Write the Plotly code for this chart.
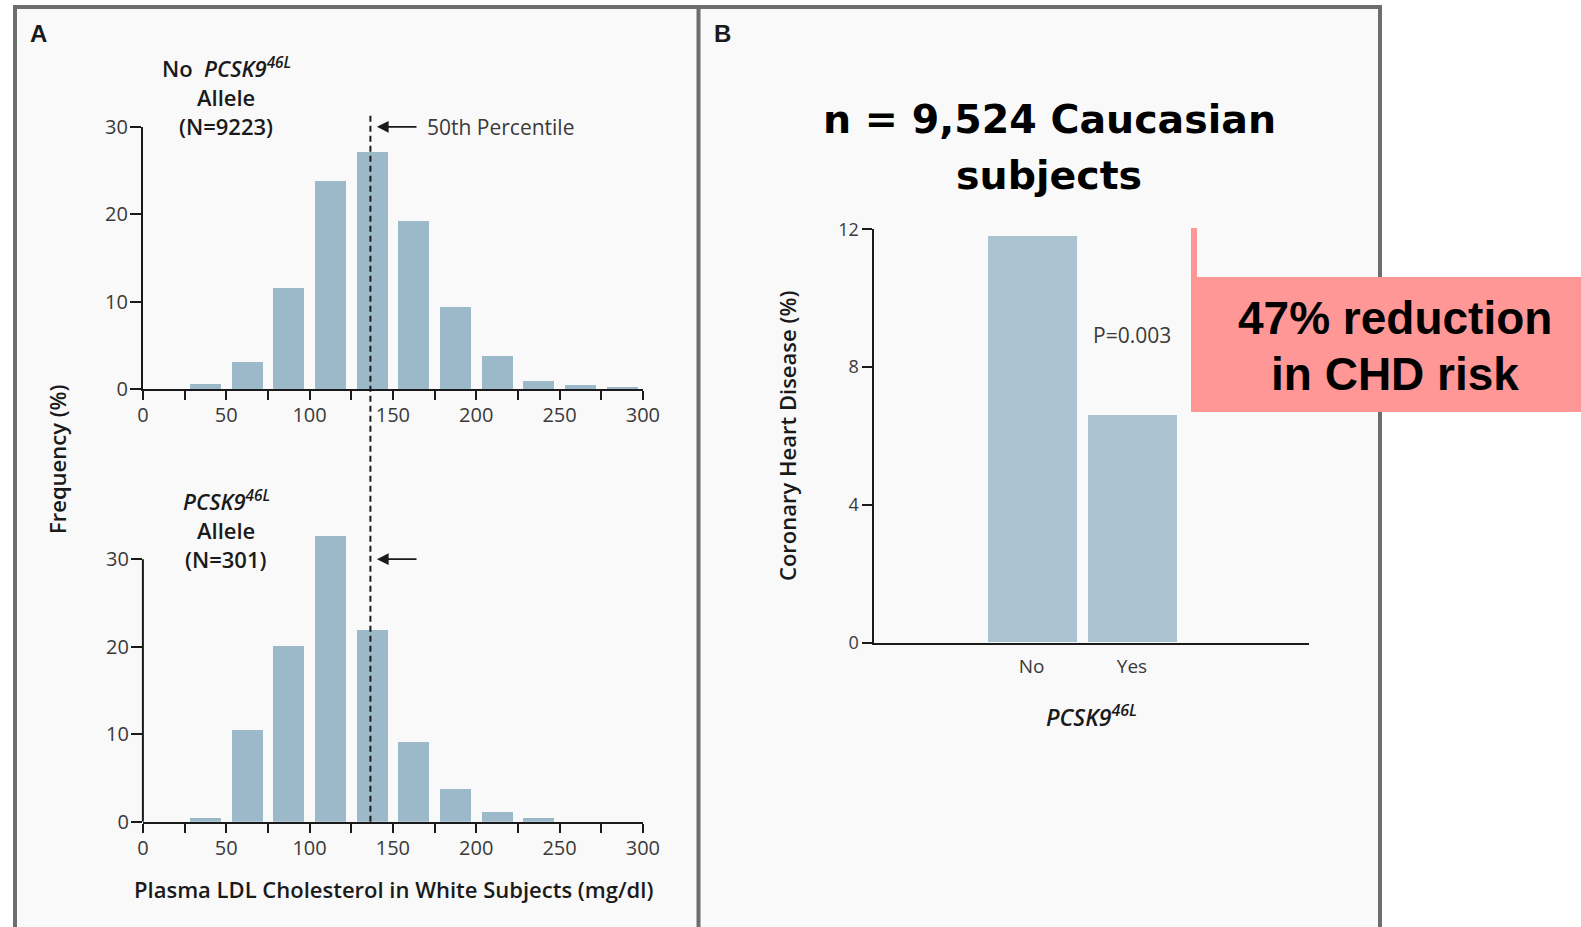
import plotly.graph_objects as go

# ---- data ----
ldl_bin_centers = [37.5, 62.5, 87.5, 112.5, 137.5, 162.5, 187.5, 212.5, 237.5, 262.5, 287.5]
freq_no_allele = [0.6, 3.2, 11.6, 23.8, 27.2, 19.3, 9.4, 3.8, 1.0, 0.5, 0.25]
freq_allele = [0.4, 10.5, 20.1, 32.6, 21.9, 9.1, 3.7, 1.1, 0.4, 0.0, 0.0]
ldl_median = 136.5

chd_groups = ["No", "Yes"]
chd_rate = [11.8, 6.6]

x_ticks = [0, 25, 50, 75, 100, 125, 150, 175, 200, 225, 250, 275, 300]
x_tick_text = ["0", " ", "50", " ", "100", " ", "150", " ", "200", " ", "250", " ", "300"]
freq_ticks = [0, 10, 20, 30]
chd_ticks = [0, 4, 8, 12]

# ---- page geometry (pixels) ----
W, H = 1581, 927


def px(x):
    return x / W


def py(y):
    return 1 - y / H


HIST_COLOR = "#9cb9c9"
CHD_COLOR = "#abc3d0"
INK = "#1a1a1a"
TICK_INK = "#3a3a3a"
NEJM = "Open Sans, Lato, sans-serif"
ARIAL = "Liberation Sans, Arial, sans-serif"
WIDE = "DejaVu Sans, Verdana, sans-serif"

fig = go.Figure()

fig.add_trace(go.Bar(x=ldl_bin_centers, y=freq_no_allele, width=18.5,
                     marker=dict(color=HIST_COLOR, line_width=0),
                     xaxis="x", yaxis="y", showlegend=False))
fig.add_trace(go.Bar(x=ldl_bin_centers, y=freq_allele, width=18.5,
                     marker=dict(color=HIST_COLOR, line_width=0),
                     xaxis="x2", yaxis="y2", showlegend=False))
fig.add_trace(go.Bar(x=chd_groups, y=chd_rate, width=0.89,
                     marker=dict(color=CHD_COLOR, line_width=0),
                     xaxis="x3", yaxis="y3", showlegend=False))

x_dom = [px(142.9), px(642.9)]
unit_y = 8.75  # pixels per percent on the histograms
top_zero, bot_zero = 389.3, 821.7
bot_max = 34

hist_x_common = dict(range=[0, 300], tickvals=x_ticks, ticktext=x_tick_text,
                     ticks="outside", ticklen=9, tickwidth=2, tickcolor=INK,
                     showline=True, linecolor=INK, linewidth=2, automargin=False,
                     showgrid=False, zeroline=False, fixedrange=True,
                     ticklabelstandoff=-2,
                     tickfont=dict(family=NEJM, size=20, color=TICK_INK))
hist_y_common = dict(tickvals=freq_ticks, ticks="outside", ticklen=11, tickwidth=2,
                     tickcolor=INK, showgrid=False, zeroline=False, automargin=False,
                     tickfont=dict(family=NEJM, size=20, color=TICK_INK),
                     ticklabelstandoff=-2)

fig.update_layout(
    width=W, height=H,
    margin=dict(l=0, r=0, t=0, b=0, autoexpand=False),
    paper_bgcolor="white",
    plot_bgcolor="rgba(0,0,0,0)",
    bargap=0,
    xaxis=dict(domain=x_dom, anchor="y", **hist_x_common),
    yaxis=dict(domain=[py(top_zero), py(top_zero - 30 * unit_y)], range=[0, 30],
               anchor="x", showline=True, linecolor=INK, linewidth=2, **hist_y_common),
    xaxis2=dict(domain=x_dom, anchor="y2", **hist_x_common),
    yaxis2=dict(domain=[py(bot_zero), py(bot_zero - bot_max * unit_y)], range=[0, bot_max],
                anchor="x2", showline=False, **hist_y_common),
    xaxis3=dict(domain=[px(873.5), px(1309.3)], anchor="y3", type="category",
                range=[-1.577, 2.768], showline=True, linecolor=INK, linewidth=2,
                ticks="", showgrid=False, zeroline=False, automargin=False,
                ticklabelstandoff=5,
                tickfont=dict(family=NEJM, size=19, color=TICK_INK)),
    yaxis3=dict(domain=[py(642.7), py(229.3)], range=[0, 12], anchor="x3",
                tickvals=chd_ticks, ticks="outside", ticklen=10, tickwidth=2,
                tickcolor=INK, showline=True, linecolor=INK, linewidth=2,
                showgrid=False, zeroline=False, ticklabelstandoff=-1, automargin=False,
                tickfont=dict(family=NEJM, size=18, color=TICK_INK)),
)

shapes = []
# panel frames
shapes.append(dict(type="rect", xref="paper", yref="paper",
                   x0=px(15), x1=px(1380), y0=py(929), y1=py(7),
                   line=dict(color="#6d6d6d", width=4), fillcolor="#f9f9f9", layer="below"))
shapes.append(dict(type="line", xref="paper", yref="paper",
                   x0=px(698.5), x1=px(698.5), y0=py(929), y1=py(7),
                   line=dict(color="#6d6d6d", width=4), layer="below"))
# y-axis line of the lower histogram, ending at 30 %
shapes.append(dict(type="line", xref="x2 domain", yref="y2",
                   x0=0, x1=0, y0=0, y1=30, line=dict(color=INK, width=2)))
# median line running through both histograms
shapes.append(dict(type="line", xref="x", yref="paper",
                   x0=ldl_median, x1=ldl_median, y0=py(bot_zero), y1=py(115),
                   line=dict(color=INK, width=2, dash="6px,4px")))
# highlight callout
shapes.append(dict(type="rect", xref="paper", yref="paper",
                   x0=px(1191), x1=px(1197), y0=py(277), y1=py(228),
                   line_width=0, fillcolor="#ff9797"))
shapes.append(dict(type="rect", xref="paper", yref="paper",
                   x0=px(1191), x1=1.01, y0=py(412), y1=py(277),
                   line_width=0, fillcolor="#ff9797"))
fig.update_layout(shapes=shapes)

ann = []


def label(x, y, text, size, family=NEJM, weight="normal", color=INK, xanchor="center",
          textangle=0):
    ann.append(dict(x=px(x), y=py(y), xref="paper", yref="paper", text=text,
                    showarrow=False, xanchor=xanchor, yanchor="middle",
                    textangle=textangle,
                    font=dict(family=family, size=size, color=color, weight=weight)))


# panel letters
label(38, 33, "A", 24, family=ARIAL, weight="bold")
label(722, 33, "B", 24, family=ARIAL, weight="bold")

# histogram group labels
label(226, 68, "No&nbsp;&nbsp;<i>PCSK9<sup>46L</sup></i>", 22, weight=600)
label(226, 97, "Allele", 22, weight=600)
label(226, 126, "(N=9223)", 22, weight=600)
label(226, 500, "<i>PCSK9<sup>46L</sup></i>", 22, weight=600)
label(226, 530, "Allele", 22, weight=600)
label(226, 559, "(N=301)", 22, weight=600)

# axis titles
label(57, 459, "Frequency (%)", 22, weight=600, textangle=-90)
label(393, 889, "Plasma LDL Cholesterol in White Subjects (mg/dl)", 22, weight=600)
label(787, 436, "Coronary Heart Disease (%)", 22, weight=600, textangle=-90)
label(1091, 716, "<i>PCSK9<sup>46L</sup></i>", 23, weight=600)

# p-value
label(1132, 335, "P=0.003", 21, color=TICK_INK)

# headline and callout text
label(1049, 119, "n = 9,524 Caucasian", 39.5, family=WIDE, weight="bold", color="black")
label(1049, 175, "subjects", 39.5, family=WIDE, weight="bold", color="black")
label(1395, 318, "47% reduction", 46, family=ARIAL, weight="bold", color="black")
label(1395, 374, "in CHD risk", 46, family=ARIAL, weight="bold", color="black")

# 50th percentile markers
arrow_tip = 140.4
for xr, yr in (("x", "y"), ("x2", "y2")):
    ann.append(dict(x=arrow_tip, y=30, xref=xr, yref=yr, ax=42.6, ay=0,
                    axref="pixel", ayref="pixel", text=" ", showarrow=True,
                    arrowhead=2, arrowsize=1.3, arrowwidth=1.8, arrowcolor=INK,
                    standoff=0, startstandoff=0))
ann.append(dict(x=px(425), y=py(126.7), xref="paper", yref="paper", text="50th Percentile",
                showarrow=False, xanchor="left", yanchor="middle",
                font=dict(family=NEJM, size=21, color=TICK_INK)))

fig.update_layout(annotations=ann)

fig.write_html("out.html")
